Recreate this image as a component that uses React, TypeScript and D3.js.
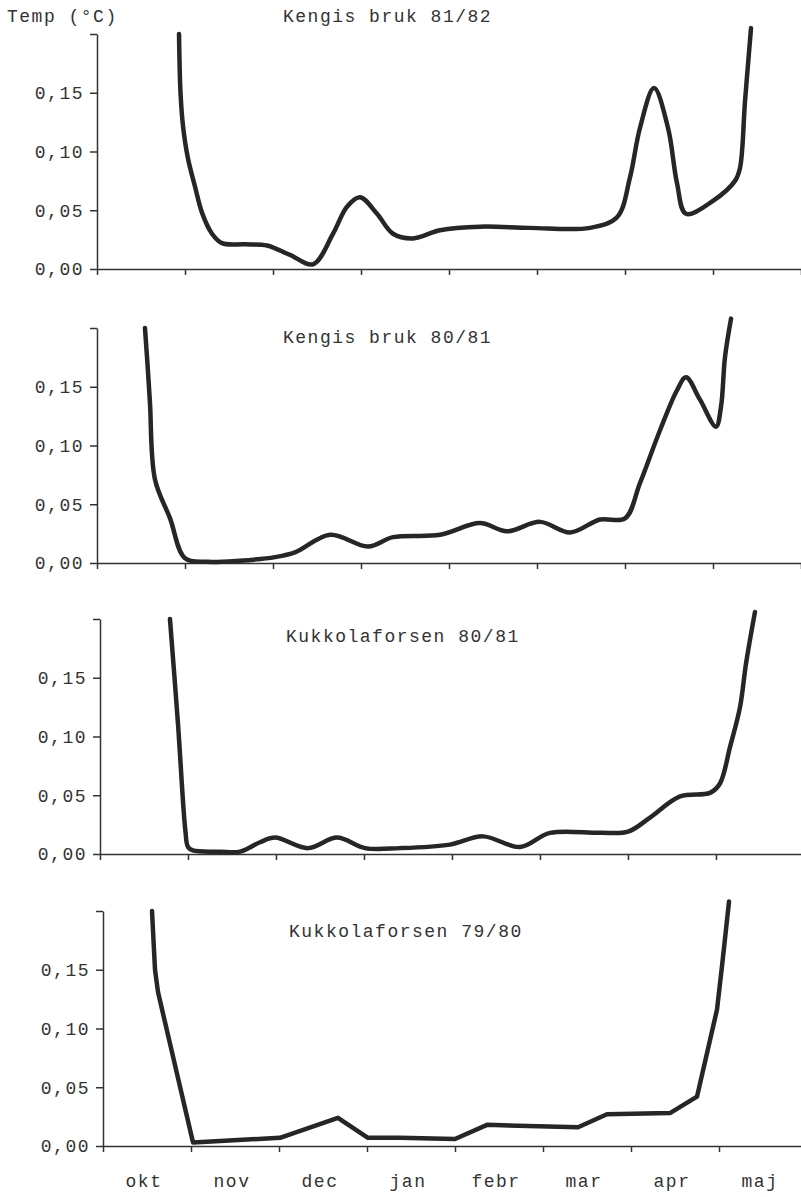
import React, { useEffect, useRef } from 'react'
import * as d3 from 'd3'

// months from 1 okt (0) to end of maj (8)
const months = ['okt', 'nov', 'dec', 'jan', 'febr', 'mar', 'apr', 'maj']
const yTicks = [0, 0.05, 0.1, 0.15, 0.2]
const titles = ['Kengis bruk 81/82', 'Kengis bruk 80/81', 'Kukkolaforsen 80/81', 'Kukkolaforsen 79/80']

// [month position, temp °C]
const kengis8182: [number, number][] = [
	[0.932, 0.2], [0.949, 0.15], [0.977, 0.122], [1.034, 0.094], [1.114, 0.07], [1.193, 0.048],
	[1.307, 0.03], [1.42, 0.022], [1.682, 0.021], [1.932, 0.02], [2.193, 0.012], [2.455, 0.004],
	[2.682, 0.03], [2.841, 0.053], [2.989, 0.061], [3.182, 0.047], [3.364, 0.03], [3.591, 0.026],
	[3.898, 0.033], [4.352, 0.036], [4.92, 0.035], [5.602, 0.035], [5.909, 0.044], [6.057, 0.078],
	[6.17, 0.12], [6.33, 0.154], [6.489, 0.12], [6.591, 0.073], [6.693, 0.047], [7.0, 0.058],
	[7.25, 0.075], [7.307, 0.086], [7.364, 0.143], [7.432, 0.205],
]

const kengis8081: [number, number][] = [
	[0.545, 0.2], [0.575, 0.168], [0.602, 0.136], [0.659, 0.071], [0.83, 0.038], [1.0, 0.004],
	[1.25, 0.001], [1.625, 0.002], [2.023, 0.005], [2.25, 0.009], [2.648, 0.024], [3.08, 0.014],
	[3.364, 0.022], [3.898, 0.024], [4.352, 0.034], [4.659, 0.027], [5.034, 0.035], [5.375, 0.026],
	[5.716, 0.037], [6.0, 0.038], [6.17, 0.068], [6.398, 0.113], [6.591, 0.147], [6.693, 0.158],
	[6.852, 0.139], [7.034, 0.116], [7.091, 0.133], [7.136, 0.175], [7.205, 0.208],
]

const kukkola8081: [number, number][] = [
	[0.795, 0.2], [0.886, 0.111], [0.97, 0.02], [1.0, 0.006], [1.057, 0.003], [1.364, 0.002],
	[1.591, 0.002], [1.818, 0.01], [1.989, 0.014], [2.364, 0.005], [2.693, 0.014], [3.011, 0.005],
	[3.409, 0.005], [3.977, 0.008], [4.352, 0.015], [4.773, 0.006], [5.114, 0.018], [5.682, 0.018],
	[6.0, 0.019], [6.25, 0.031], [6.591, 0.049], [6.932, 0.052], [7.045, 0.06], [7.159, 0.091],
	[7.273, 0.125], [7.341, 0.162], [7.443, 0.206],
]

const kukkola7980: [number, number][] = [
	[0.557, 0.2], [0.591, 0.15], [0.625, 0.131], [1.023, 0.003], [2.011, 0.007], [2.67, 0.024],
	[3.011, 0.007], [3.375, 0.007], [4.0, 0.006], [4.364, 0.018], [5.398, 0.016], [5.727, 0.027],
	[6.443, 0.028], [6.75, 0.042], [6.977, 0.116], [7.034, 0.153], [7.114, 0.208],
]

const series = [kengis8182, kengis8081, kukkola8081, kukkola7980]

// layout per panel: zero-line y, horizontal skew of the scan, title baseline
const zeroY = [269, 563, 854, 1146]
const shiftX = [0, 0, 3, 6]
const titleY = [22, 343, 642, 937]
const smooth = d3.curveCatmullRom.alpha(0.5)
const curves = [smooth, smooth, smooth, d3.curveLinear]

const FONT = "'Liberation Mono', 'DejaVu Sans Mono', monospace"
const INK = '#333'
const FS = 18
const LS = 1.5

export default function App() {
	const ref = useRef<SVGSVGElement>(null)

	useEffect(() => {
		const svg = d3.select(ref.current)
		svg.selectAll('*').remove()

		const fmt = (d: number) => (d >= 0.2 ? '' : d3.format('.2f')(d).replace('.', ','))

		series.forEach((data, i) => {
			const x = d3.scaleLinear().domain([0, 8]).range([97 + shiftX[i], 801 + shiftX[i]])
			const y = d3.scaleLinear().domain([0, 0.2]).range([zeroY[i], zeroY[i] - 235])
			const g = svg.append('g')

			const yAxis = g
				.append('g')
				.attr('transform', `translate(${x(0)},0)`)
				.call(d3.axisLeft(y).tickValues(yTicks).tickSize(7).tickSizeOuter(0).tickPadding(6).tickFormat((d) => fmt(+d)))
			const xAxis = g
				.append('g')
				.attr('transform', `translate(0,${zeroY[i]})`)
				.call(d3.axisBottom(x).tickValues(d3.range(0, 9)).tickSize(6).tickSizeOuter(0).tickFormat(() => ''))

			;[yAxis, xAxis].forEach((a) => {
				a.attr('font-family', FONT).attr('font-size', FS)
				a.selectAll('path, line').attr('stroke', INK).attr('stroke-width', 1.5)
				a.selectAll('text').attr('fill', INK).attr('letter-spacing', LS)
			})

			g.append('text')
				.attr('x', 283 + shiftX[i])
				.attr('y', titleY[i])
				.attr('font-family', FONT)
				.attr('font-size', FS)
				.attr('letter-spacing', LS)
				.attr('fill', INK)
				.text(titles[i])

			const line = d3
				.line<[number, number]>()
				.x((d) => x(d[0]))
				.y((d) => y(d[1]))
				.curve(curves[i])

			g.append('path')
				.datum(data)
				.attr('d', line)
				.attr('fill', 'none')
				.attr('stroke', '#262626')
				.attr('stroke-width', 4.5)
				.attr('stroke-linecap', 'round')
				.attr('stroke-linejoin', 'round')

			if (i === 3) {
				g.selectAll('.month')
					.data(months)
					.enter()
					.append('text')
					.attr('class', 'month')
					.attr('x', (d, j) => x(j + 0.5) - 3)
					.attr('y', 1187)
					.attr('text-anchor', 'middle')
					.attr('font-family', FONT)
					.attr('font-size', FS)
					.attr('letter-spacing', LS)
					.attr('fill', INK)
					.text((d) => d)
			}
		})

		svg.append('text')
			.attr('x', 7)
			.attr('y', 22)
			.attr('font-family', FONT)
			.attr('font-size', FS)
			.attr('letter-spacing', LS)
			.attr('fill', INK)
			.text('Temp (°C)')
	}, [])

	return (
		<svg
			ref={ref}
			width={801}
			height={1197}
			style={{ position: 'absolute', left: 0, top: 0, background: '#fff' }}
		/>
	)
}
